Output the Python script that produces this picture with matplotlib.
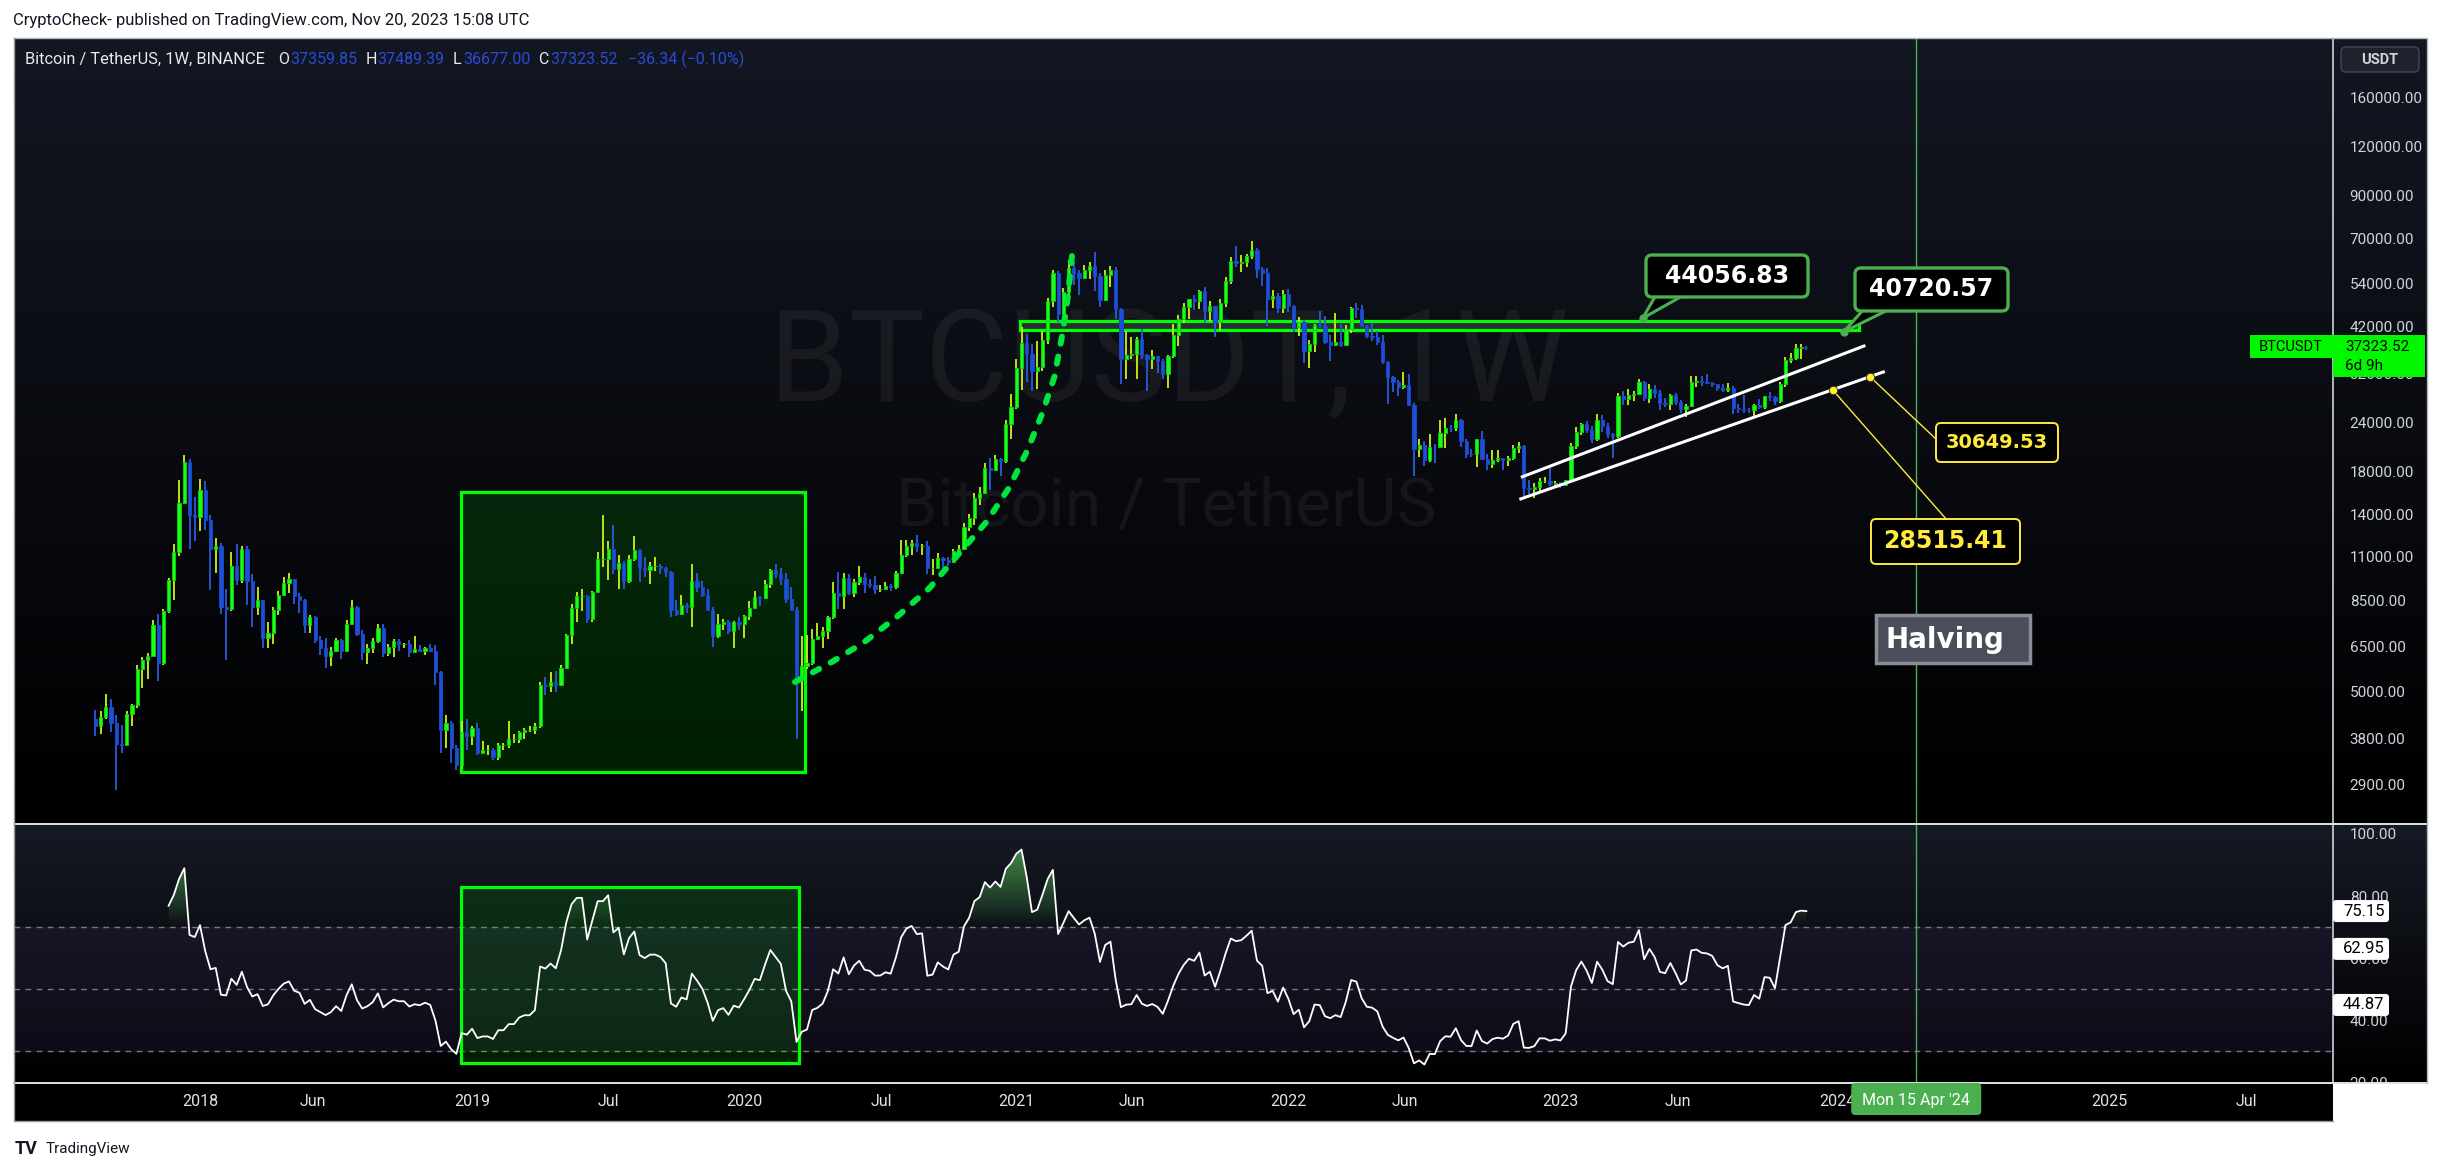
# BTCUSDT weekly chart (TradingView style) with RSI pane
import numpy as np
import pandas as pd
import matplotlib
matplotlib.use("Agg")
import matplotlib.pyplot as plt
import matplotlib.dates as mdates
from matplotlib.colors import LinearSegmentedColormap, to_rgb
from matplotlib.patches import Rectangle, FancyBboxPatch, Polygon
from matplotlib.path import Path
from matplotlib.ticker import NullLocator

plt.rcParams['font.family'] = ['Roboto', 'DejaVu Sans']

# ---- weekly candles, Binance BTCUSDT (weeks start Monday) ----
first_week = '2017-08-14'
first_open = 4261.48

closes = [
    4086, 4310, 4565, 4150, 3690, 3660, 4380, 4610, 5700, 6000, 6150, 7370, 5900, 8000, 9600, 11300, 15000, 19100, 14000, 13800,
    16200, 13600, 11500, 11700, 8200, 8100, 10400, 9600, 11500, 9500, 8200, 8500, 6850, 7050, 8050, 8800, 9400, 9650, 8700, 8500,
    7350, 7700, 6750, 6450, 6150, 6350, 6750, 6350, 7400, 8200, 7000, 6300, 6450, 6700, 7250, 6250, 6500, 6700, 6600, 6600,
    6300, 6400, 6350, 6450, 6350, 5600, 4000, 4150, 3600, 3250, 3950, 3850,
    4050, 3500, 3550, 3550, 3420, 3650, 3650, 3800, 3800, 3950, 4000, 4000, 4100, 5200, 5150, 5300, 5200, 5750, 6950, 8150,
    8700, 8700, 7650, 8950, 10800, 10800, 11500, 10200, 10600, 9500, 10800, 11400, 10300, 10150, 10400, 10400, 10300, 10050, 8050, 7850,
    8300, 8200, 9550, 9200, 8800, 8050, 6900, 7400, 7500, 7100, 7500, 7400,
    7750, 8150, 8650, 8600, 9350, 10150, 9900, 9650, 8550, 8050, 5350, 5800, 5900, 6800, 6900, 7100, 7700, 8900, 8700, 9700,
    8900, 9450, 9750, 9350, 9300, 9100, 9100, 9250, 9200, 9950, 11100, 11700, 11900, 11650, 11700, 10250, 10300, 10900, 10750, 10650,
    11350, 11500, 13050, 13750, 15450, 15950, 18400, 18200, 19350, 19150, 23850, 26300,
    33000, 38150, 35800, 32300, 33100, 38900, 48600, 57400, 45100, 51200, 59000, 57350, 55800, 58200, 59750, 56200, 49000, 56600, 58250, 46400,
    34700, 35650, 35800, 39100, 35600, 34700, 35300, 34250, 31800, 35400, 39850, 43800, 47000, 49300, 48800, 51750, 46000, 47250, 43200, 48200,
    54700, 61500, 60850, 61300, 63250, 65500, 58600, 57300, 49400, 50100, 46700, 50800,
    47300, 41900, 43100, 36300, 37900, 42400, 42200, 38400, 37700, 38400, 37800, 41300, 46800, 46400, 42150, 39700, 39450, 38450, 34050, 31300,
    30300, 29450, 29900, 26600, 20550, 21000, 19300, 20850, 20800, 22600, 23300, 23200, 24300, 21500, 20000, 19950, 21800, 19400, 18800, 19300,
    19450, 19250, 19550, 20650, 20900, 16350, 16300, 16450, 17100, 17100, 16750, 16850,
    16700, 17150, 20900, 22700, 23750, 22950, 21800, 24300, 23550, 22450, 22150, 27950, 27500, 28150, 28300, 30300, 27600, 29250, 28450, 26900,
    26750, 28100, 27100, 25900, 26350, 30450, 30600, 30300, 30250, 30050, 29300, 29050, 29300, 26150, 26000, 25850, 25800, 26550, 26250, 27950,
    27900, 27150, 30000, 34500, 35000, 37050, 37359.86, 37323.52,
]

highs = [
    4485, 4453, 4939, 4789, 4350, 4125, 4470, 4650, 5850, 6100, 6250, 7600, 7850, 8100, 9700, 11800, 17200, 19800, 19400, 15500,
    17250, 17100, 14000, 12250, 11900, 9100, 11250, 11800, 11700, 11700, 9900, 9200, 8500, 7500, 8200, 9000, 9750, 10000, 9650, 8900,
    8550, 7800, 7750, 6900, 6850, 6500, 6850, 6800, 7600, 8500, 8250, 7150, 6600, 6850, 7400, 7400, 6600, 6800, 6800, 6650,
    6750, 6900, 6550, 6500, 6600, 6550, 5650, 4350, 4200, 3650, 4200, 4250,
    4100, 4150, 3750, 3650, 3600, 3700, 3700, 4200, 3900, 3980, 4050, 4100, 4150, 5300, 5450, 5600, 5650, 5850, 7000, 8350,
    8950, 9100, 8800, 9000, 11250, 13970, 12000, 13200, 11100, 10700, 11100, 12350, 11450, 10950, 10650, 10950, 10500, 10350, 10100, 8500,
    8800, 8400, 10500, 9950, 9500, 9100, 8200, 7850, 7650, 7600, 7550, 7700,
    7800, 8450, 9000, 8750, 9600, 10200, 10500, 10250, 9950, 9200, 8200, 6900, 6950, 7200, 7450, 7300, 7750, 9450, 10050, 9950,
    9900, 9650, 10400, 9950, 9650, 9800, 9300, 9450, 9350, 10100, 12100, 12100, 12100, 12450, 11800, 12050, 10800, 11200, 10950, 10950,
    11450, 11750, 13350, 14100, 15950, 16500, 18950, 19450, 19900, 19450, 24300, 28400,
    34800, 41950, 40100, 37850, 38500, 40900, 49700, 58350, 58000, 52650, 61800, 61200, 58400, 60200, 61200, 64850, 57500, 58450, 59600, 59500,
    46650, 40850, 39500, 39500, 41300, 35750, 36700, 35400, 34700, 35500, 42600, 44800, 48150, 49400, 50500, 51900, 52950, 48850, 47300, 49200,
    56100, 62900, 67000, 63700, 64250, 69000, 66300, 59400, 59200, 51950, 51000, 52050,
    52100, 47550, 44500, 43500, 38900, 42650, 45850, 44750, 40000, 45400, 42600, 42450, 46950, 48200, 47500, 42450, 42950, 40800, 40000, 34250,
    31400, 30650, 32200, 31750, 26900, 21850, 21550, 22500, 21200, 24300, 24650, 23650, 25200, 24450, 21800, 20600, 21850, 22800, 19950, 20400,
    20450, 19550, 19700, 21100, 21450, 21050, 17200, 16850, 17350, 17450, 18400, 17050,
    16950, 17200, 21350, 23350, 23950, 24250, 23450, 25250, 25100, 23900, 22600, 28450, 28900, 29200, 28800, 31000, 30550, 30050, 29850, 29050,
    27650, 28250, 28450, 27400, 26800, 31400, 31450, 31500, 31800, 30400, 30100, 30000, 30250, 29650, 26800, 28150, 26100, 26800, 27500, 28050,
    28600, 28000, 30400, 35200, 35950, 38000, 37950, 37489.39,
]

lows = [
    3850, 3900, 4250, 3950, 2817, 3500, 3650, 4100, 4550, 5100, 5380, 6100, 5325, 5850, 7900, 8500, 11000, 14900, 11500, 12000,
    12750, 12800, 9035, 10000, 7850, 6000, 8000, 9300, 9400, 8300, 7300, 7800, 6450, 6450, 6600, 7800, 8700, 8900, 8350, 7900,
    7050, 7050, 6650, 6200, 5750, 5800, 6300, 6050, 6300, 7350, 6900, 6000, 5880, 6250, 6650, 6100, 6150, 6100, 6350, 6450,
    6100, 6250, 6300, 6200, 6300, 5200, 3500, 3600, 3300, 3156, 3220, 3550,
    3650, 3450, 3480, 3450, 3350, 3350, 3550, 3600, 3700, 3700, 3800, 3950, 3900, 4050, 4900, 5000, 5000, 5150, 5700, 6600,
    7500, 8000, 7450, 7500, 8900, 10350, 9600, 9900, 9100, 9100, 9400, 10700, 9450, 9750, 9350, 10100, 9900, 9750, 7700, 7750,
    7800, 7900, 7300, 8950, 8650, 8000, 6500, 6850, 7150, 7000, 6450, 7150,
    6850, 7600, 8100, 8250, 8550, 9150, 9700, 9300, 8400, 8000, 3782, 4450, 5700, 5850, 6750, 6450, 6800, 7650, 8100, 8100,
    8800, 8650, 9300, 8900, 9150, 8850, 8950, 9050, 9000, 9100, 9900, 10950, 11100, 11300, 11100, 9900, 9850, 10250, 10150, 10400,
    10550, 11200, 11400, 12750, 13200, 14800, 15800, 16200, 18100, 17600, 19000, 21800,
    25900, 29000, 30400, 28850, 29250, 32300, 37900, 47000, 43000, 44950, 49200, 53400, 50400, 55500, 55400, 51500, 47000, 48800, 52900, 43800,
    30000, 31000, 34800, 31000, 34800, 28800, 32700, 32100, 31000, 29300, 34900, 37500, 42800, 43950, 46250, 46500, 42800, 43350, 39600, 40800,
    46950, 53850, 59550, 57800, 59400, 62300, 55600, 53250, 42000, 46800, 45550, 45500,
    45700, 40600, 39650, 34000, 32900, 36250, 41700, 38000, 34300, 37450, 37150, 37550, 40500, 44200, 42100, 39200, 38550, 37700, 33700, 26700,
    28650, 28000, 29250, 26550, 17600, 19650, 18650, 19050, 18900, 20750, 20700, 22650, 22850, 20750, 19550, 19600, 18550, 19350, 18150, 18450,
    19100, 18200, 18650, 19250, 20050, 15600, 15800, 15450, 16000, 16850, 16550, 16400,
    16350, 16550, 17100, 20550, 22300, 22550, 21350, 21550, 22750, 21950, 19550, 21900, 26600, 26500, 27200, 28150, 27150, 26950, 27700, 25800,
    26300, 25850, 26500, 25350, 24800, 26250, 29500, 29700, 30100, 29500, 28850, 28600, 28700, 25150, 25350, 25350, 25350, 24900, 26000, 26000,
    27150, 26550, 26950, 29500, 33900, 34550, 34800, 36677.00,
]

price_ticks = [160000, 120000, 90000, 70000, 54000, 42000, 32000, 24000, 18000, 14000, 11000, 8500, 6500, 5000, 3800, 2900]
rsi_ticks = [20, 40, 60, 80, 100]
rsi_tags = ['75.15', '62.95', '44.87']

time_ticks = ['2018-01-01', '2018-06-01', '2018-12-31', '2019-07-01', '2019-12-30', '2020-07-01', '2020-12-28', '2021-06-01',
              '2021-12-27', '2022-06-01', '2022-12-26', '2023-06-01', '2024-01-01', '2024-12-30', '2025-07-01']
time_labels = ['2018', 'Jun', '2019', 'Jul', '2020', 'Jul', '2021', 'Jun', '2022', 'Jun', '2023', 'Jun', '2024', '2025', 'Jul']

# drawings (date, price)
zone_2019 = ('2018-12-16', '2020-03-21', 3128, 16000)
rsi_zone_2019 = ('2018-12-16', '2020-03-13', 26.1, 82.9)
resist_zone = ('2021-01-02', '2024-01-30', 41100, 43400)
curve_dates = ['2020-03-07', '2020-04-23', '2020-06-06', '2020-07-21', '2020-09-03', '2020-10-13', '2020-11-18',
               '2020-12-19', '2021-01-12', '2021-02-01', '2021-02-17', '2021-02-28', '2021-03-07', '2021-03-14']
curve_prices = [5285, 5906, 6634, 7720, 9143, 11210, 13430, 16470, 20430, 25360, 31280, 40430, 49850, 67500]
upper_dates, upper_prices = ['2022-11-05', '2024-02-05'], [17480, 37470]
lower_dates, lower_prices = ['2022-11-03', '2024-03-02'], [15370, 32210]
halving = '2024-04-15'

W, H = 2444, 1170
PL, PR, AR = 14, 2333, 2427
MT, MB = 38, 823
RT, RB = 825, 1083
TB = 1121


def dn(d):
    return mdates.date2num(pd.Timestamp(d).to_pydatetime())


def frac(x0, y0, x1, y1):
    return [x0 / W, 1 - y1 / H, (x1 - x0) / W, (y1 - y0) / H]


def vgrad(a, x0, x1, y0, y1, c_top, c_bot):
    cmap = LinearSegmentedColormap.from_list('g', [c_top, c_bot])
    a.imshow(np.linspace(0, 1, 256).reshape(-1, 1), cmap=cmap, extent=(x0, x1, y1, y0),
             aspect='auto', interpolation='bicubic', zorder=0)


def wilder_rsi(c, n=14):
    c = np.asarray(c, float)
    ch = np.diff(c)
    up = np.clip(ch, 0, None)
    dw = np.clip(-ch, 0, None)
    out = np.full(len(c), np.nan)
    au, ad = up[:n].mean(), dw[:n].mean()
    out[n] = 100 - 100 / (1 + au / ad)
    for i in range(n, len(ch)):
        au = (au * (n - 1) + up[i]) / n
        ad = (ad * (n - 1) + dw[i]) / n
        out[i + 1] = 100 - 100 / (1 + au / ad)
    return out


def gradient_fill(a, x, y, level, edge, color, amax):
    if edge > level:
        coll = a.fill_between(x, y, level, where=y > level, interpolate=True, facecolor='none', edgecolor='none')
        img, lo, hi = np.linspace(0, 1, 200).reshape(-1, 1), level, edge
    else:
        coll = a.fill_between(x, y, level, where=y < level, interpolate=True, facecolor='none', edgecolor='none')
        img, lo, hi = np.linspace(1, 0, 200).reshape(-1, 1), edge, level
    r, g, b = to_rgb(color)
    cmap = LinearSegmentedColormap.from_list('f', [(r, g, b, 0), (r, g, b, amax)])
    im = a.imshow(img, cmap=cmap, extent=(x[0], x[-1], lo, hi), origin='lower', aspect='auto',
                  zorder=2, vmin=0, vmax=1)
    paths = [p for p in coll.get_paths() if len(p.vertices)]
    if paths:
        im.set_clip_path(Path.make_compound_path(*paths), a.transData)
    else:
        im.remove()


fig = plt.figure(figsize=(W / 100, H / 100), dpi=100, facecolor='white')
bg = fig.add_axes([0, 0, 1, 1], zorder=0)
ov = fig.add_axes([0, 0, 1, 1], zorder=5)
ax = fig.add_axes(frac(PL, MT, PR, MB), zorder=2)
ax2 = fig.add_axes(frac(PL, RT, PR, RB), zorder=2)

vgrad(bg, PL, AR, MT, MB, '#131722', '#000000')
vgrad(bg, PL, AR, MB, RB, '#161a25', '#000000')

dates = pd.date_range(first_week, periods=len(closes), freq='7D')
xd = mdates.date2num(dates.to_pydatetime())
c = np.array(closes, float)
o = np.r_[first_open, c[:-1]]
hi = np.maximum(np.array(highs, float), np.maximum(o, c))
lo = np.minimum(np.array(lows, float), np.minimum(o, c))
bull = c >= o

x_left = dn('2018-01-01') + (PL - 200) / 0.7475
x_right = dn('2018-01-01') + (PR - 200) / 0.7475

# ---- main pane ----
for a in (ax, ax2):
    a.patch.set_alpha(0)
    for s in a.spines.values():
        s.set_visible(False)
    a.set_xlim(x_left, x_right)

ax.set_yscale('log')
ax.text(0.498, 0.582, 'BTCUSDT, 1W', transform=ax.transAxes, ha='center', va='center',
        fontsize=92, color='white', alpha=0.055, zorder=0.5)
ax.text(0.497, 0.4025, 'Bitcoin / TetherUS', transform=ax.transAxes, ha='center', va='center',
        fontsize=48, color='white', alpha=0.055, zorder=0.5)

d0, d1, p0, p1 = zone_2019
ax.add_patch(Rectangle((dn(d0), p0), dn(d1) - dn(d0), p1 - p0, facecolor=(0, 1, 0, 0.12),
                       edgecolor='#00ff00', lw=2.3, zorder=1.5))
d0, d1, p0, p1 = resist_zone
ax.add_patch(Rectangle((dn(d0), p0), dn(d1) - dn(d0), p1 - p0, facecolor='#2a2d36',
                       edgecolor='#00ff00', lw=2.3, zorder=1.5))

wick_col = np.where(bull, '#c8f51a', '#2a5ae0')
ax.vlines(xd, lo, hi, colors=wick_col, lw=1.3, zorder=3)
ax.bar(xd[bull], (c - o)[bull], bottom=o[bull], width=4.3, color='#19ff19', edgecolor='#0acb0a', lw=0.7, zorder=4)
ax.bar(xd[~bull], (o - c)[~bull], bottom=c[~bull], width=4.3, color='#1e4fd8', edgecolor='#1b47c6', lw=0.7, zorder=4)

ax.plot([dn(d) for d in curve_dates], curve_prices, color='#00e63c', lw=4.3, ls=(0, (1.2, 2.2)),
        dash_capstyle='round', zorder=5)
ax.plot([dn(d) for d in upper_dates], upper_prices, color='white', lw=2.2, zorder=5)
ax.plot([dn(d) for d in lower_dates], lower_prices, color='white', lw=2.2, zorder=5)
ax.axvline(dn(halving), color='#4caf50', lw=1, zorder=2)

ax.set_ylim(2323, 225700)
ax.yaxis.tick_right()
ax.set_yticks(price_ticks)
ax.set_yticklabels([f'{v:.2f}' for v in price_ticks])
ax.yaxis.set_minor_locator(NullLocator())
ax.tick_params(axis='y', length=0, pad=12, labelsize=11, labelcolor='#d1d4dc')
ax.set_xticks([])

# ---- RSI pane ----
rsi = wilder_rsi(c)
ok = ~np.isnan(rsi)
rx, ry = xd[ok], rsi[ok]
ax2.axhspan(30, 70, color='#7e57c2', alpha=0.1, zorder=1)
for lvl in (70, 50, 30):
    ax2.axhline(lvl, color='#787b86', lw=1, ls=(0, (4, 4)), zorder=1.2)
d0, d1, p0, p1 = rsi_zone_2019
ax2.add_patch(Rectangle((dn(d0), p0), dn(d1) - dn(d0), p1 - p0, facecolor=(0, 1, 0, 0.12),
                        edgecolor='#00ff00', lw=2.3, zorder=1.5))
gradient_fill(ax2, rx, ry, 70, 100, '#4caf50', 0.9)
gradient_fill(ax2, rx, ry, 30, 0, '#f23645', 0.9)
ax2.plot(rx, ry, color='white', lw=1.3, zorder=4)
ax2.axvline(dn(halving), color='#4caf50', lw=1, zorder=2)
ax2.set_xlim(x_left, x_right)
ax2.set_ylim(19.7, 102.9)
ax2.yaxis.tick_right()
ax2.set_yticks(rsi_ticks)
ax2.set_yticklabels([f'{v:.2f}' for v in rsi_ticks])
ax2.tick_params(axis='y', length=0, pad=12, labelsize=11, labelcolor='#d1d4dc')
ax2.set_xticks([])


def px(a, date, value):
    X, Y = a.transData.transform((dn(date) if isinstance(date, str) else date, value))
    return X, H - Y


# ---- chrome ----
ov.add_patch(Rectangle((PL, RB), PR - PL, TB - RB, facecolor='black', edgecolor='none', zorder=0))
ov.add_patch(Rectangle((PR, RB), AR - PR, TB - RB, facecolor='white', edgecolor='none', zorder=0))
ov.plot([PL, AR], [MB + 1, MB + 1], color='#e0e3eb', lw=1.4)
ov.plot([PL, AR], [RB, RB], color='#e0e3eb', lw=1.4)
ov.plot([PR, PR], [MT, RB], color='#e0e3eb', lw=1.1)
ov.plot([PL, AR, AR], [MT, MT, RB], color='#b2b5be', lw=1)
ov.plot([PL, PL, PR], [MT, TB, TB], color='#9598a1', lw=1)

for d, t in zip(time_ticks, time_labels):
    X, _ = px(ax2, d, 50)
    ov.text(X, 1101, t, ha='center', va='center', fontsize=11.5, color='#e0e3eb')

hx, _ = px(ax2, halving, 50)
ov.add_patch(FancyBboxPatch((hx - 65, RB), 130, 32, boxstyle='round,pad=0,rounding_size=4',
                            facecolor='#4caf50', edgecolor='none', zorder=3))
ov.text(hx, 1100, "Mon 15 Apr '24", ha='center', va='center', fontsize=11.5, color='white', zorder=4)

# header texts
ov.text(13, 20, 'CryptoCheck- published on TradingView.com, Nov 20, 2023 15:08 UTC',
        ha='left', va='center', fontsize=12, color='#131722')
ov.text(25, 59, 'Bitcoin / TetherUS, 1W, BINANCE', ha='left', va='center', fontsize=11.8, color='#e8eaf0')
for xl, lab, xv, val in [(278, 'O', 290, '37359.85'), (366, 'H', 377, '37489.39'),
                         (453, 'L', 463, '36677.00'), (538, 'C', 550, '37323.52')]:
    ov.text(xl, 59, lab, ha='left', va='center', fontsize=11.5, color='#e8eaf0')
    ov.text(xv, 59, val, ha='left', va='center', fontsize=11.5, color='#2a4bd7')
ov.text(628, 59, '\u221236.34 (\u22120.10%)', ha='left', va='center', fontsize=11.5, color='#2a4bd7')

ov.text(15, 1149, 'TV', ha='left', va='center', fontsize=13, fontweight='bold', color='#131722')
ov.text(46, 1149, 'TradingView', ha='left', va='center', fontsize=11, color='#131722')

# price axis labels
ov.add_patch(FancyBboxPatch((2341, 47), 78, 25, boxstyle='round,pad=0,rounding_size=5',
                            facecolor='#1e222d', edgecolor='#434651', lw=1))
ov.text(2380, 59.5, 'USDT', ha='center', va='center', fontsize=10.5, fontweight='bold', color='#d1d4dc')

_, cy = px(ax, xd[-1], c[-1])
ov.add_patch(Rectangle((PR, cy - 12), AR - PR - 2, 42, facecolor='#00f700', edgecolor='none', zorder=3))
ov.text(2345, cy, '37323.52', ha='left', va='center', fontsize=11, color='black', zorder=4)
ov.text(2345, cy + 19, '6d 9h', ha='left', va='center', fontsize=11, color='black', zorder=4)
ov.add_patch(Rectangle((2250, cy - 12), PR - 2250, 23, facecolor='#00f700', edgecolor='none', zorder=3))
ov.text(2291, cy, 'BTCUSDT', ha='center', va='center', fontsize=10.5, color='black', zorder=4)

for t in rsi_tags:
    _, ty = px(ax2, xd[-1], float(t))
    ov.add_patch(FancyBboxPatch((PR, ty - 11), 56, 22, boxstyle='round,pad=0,rounding_size=3',
                                facecolor='white', edgecolor='none', zorder=3))
    ov.text(2343, ty, t, ha='left', va='center', fontsize=12, color='black', zorder=4)

# green callouts on the resistance zone
for label, d, price, (bx0, by0, bx1, by1), (j0, j1) in [
        ('44056.83', '2023-04-15', 44056.83, (1646, 255, 1808, 297), (1656, 1684)),
        ('40720.57', '2024-01-09', 40720.57, (1855, 268, 2008, 311), (1864, 1890))]:
    tx, ty = px(ax, d, price)
    ov.add_patch(Polygon([(tx, ty), (j0, by1 - 2), (j1, by1 - 2)], closed=True, facecolor='black',
                         edgecolor='#4caf50', lw=2.2, zorder=2))
    ov.add_patch(FancyBboxPatch((bx0, by0), bx1 - bx0, by1 - by0, boxstyle='round,pad=0,rounding_size=6',
                                facecolor='black', edgecolor='#4caf50', lw=2.4, zorder=3))
    ov.text((bx0 + bx1) / 2, (by0 + by1) / 2, label, ha='center', va='center', fontsize=17,
            fontweight='bold', color='white', family='DejaVu Sans', zorder=4)
    ov.plot(tx, ty, 'o', ms=5, color='#4caf50', zorder=4)

# yellow callouts on the lower channel line
ld = [dn(d) for d in lower_dates]
lp = np.log10(lower_prices)
for label, d, (bx0, by0, bx1, by1), join, fs in [
        ('30649.53', '2024-02-13', (1936, 423, 2058, 462), (1937, 440), 14),
        ('28515.41', '2023-12-25', (1871, 519, 2020, 564), (1947, 520), 17)]:
    price = 10 ** np.interp(dn(d), ld, lp)
    tx, ty = px(ax, d, price)
    ov.plot([tx, join[0]], [ty, join[1]], color='#ffeb3b', lw=1, zorder=2)
    ov.add_patch(FancyBboxPatch((bx0, by0), bx1 - bx0, by1 - by0, boxstyle='round,pad=0,rounding_size=5',
                                facecolor='black', edgecolor='#ffeb3b', lw=1.4, zorder=3))
    ov.text((bx0 + bx1) / 2, (by0 + by1) / 2, label, ha='center', va='center', fontsize=fs,
            fontweight='bold', color='#ffeb3b', family='DejaVu Sans', zorder=4)
    ov.plot(tx, ty, 'o', ms=6, color='#ffeb3b', mec='#3a3a00', mew=0.6, zorder=4)

ov.add_patch(Rectangle((1876, 615), 154, 48, facecolor='#4a4e5a', edgecolor='#8a8d96', lw=2.5, zorder=3))
ov.text(1886, 640, 'Halving', ha='left', va='center', fontsize=20, fontweight='bold', color='white',
        family='DejaVu Sans', zorder=4)

for a in (bg, ov):
    a.set_xlim(0, W)
    a.set_ylim(H, 0)
    a.set_axis_off()

fig.savefig('out.png', dpi=100, facecolor='white')
